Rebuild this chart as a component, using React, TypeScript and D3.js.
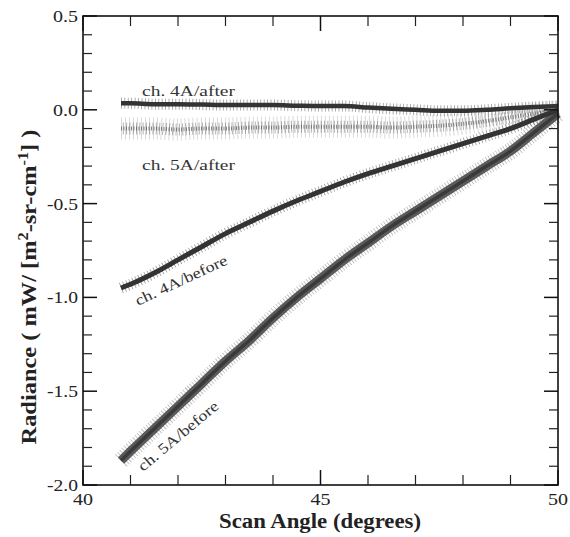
import React from "react";
import * as d3 from "d3";

const angles = [40.8, 41.0, 41.5, 42.0, 42.5, 43.0, 43.5, 44.0, 44.5, 45.0, 45.5, 46.0, 46.5, 47.0, 47.5, 48.0, 48.5, 49.0, 49.5, 50.0];
const ch4After = [0.035, 0.035, 0.03, 0.03, 0.028, 0.025, 0.025, 0.025, 0.022, 0.02, 0.02, 0.012, 0.005, 0.0, -0.005, -0.005, 0.0, 0.008, 0.015, 0.02];
const ch5After = [-0.1, -0.1, -0.1, -0.105, -0.1, -0.1, -0.095, -0.095, -0.09, -0.09, -0.09, -0.09, -0.095, -0.09, -0.085, -0.075, -0.06, -0.04, -0.02, -0.005];
const ch4Before = [-0.95, -0.93, -0.87, -0.8, -0.73, -0.66, -0.6, -0.54, -0.485, -0.435, -0.385, -0.34, -0.3, -0.26, -0.22, -0.18, -0.14, -0.1, -0.05, 0.0];
const ch5Before = [-1.87, -1.82, -1.7, -1.58, -1.46, -1.34, -1.23, -1.11, -1.0, -0.9, -0.8, -0.71, -0.62, -0.54, -0.46, -0.38, -0.3, -0.22, -0.12, -0.02];

const xMajor = [40, 45, 50];
const xMajorLabels = ["40", "45", "50"];
const yMajor = [0.5, 0.0, -0.5, -1.0, -1.5, -2.0];
const yMajorLabels = ["0.5", "0.0", "-0.5", "-1.0", "-1.5", "-2.0"];

const W = 570, H = 537;
const L = 83, R = 558, T = 16, B = 485;

export default function App() {
  const x = d3.scaleLinear().domain([40, 50]).range([L, R]);
  const y = d3.scaleLinear().domain([-2, 0.5]).range([B, T]);
  const line = (vals: number[]) =>
    d3.line<number>().x((_, i) => x(angles[i])).y((v) => y(v)).curve(d3.curveMonotoneX)(vals) || "";

  const xMinor = d3.range(41, 50, 1).filter((v) => v !== 45);
  const yMinor = d3.range(-19, 5, 1).map((v) => v / 10).filter((v) => Math.abs(v * 2 - Math.round(v * 2)) > 1e-6);

  const serif = "'Liberation Serif', 'Times New Roman', Times, serif";

  return (
    <svg width={W} height={H} style={{ position: "absolute", left: 0, top: 0, background: "#fff", fontFamily: serif }}>
      {/* 5A/after scattered band */}
      <path d={line(ch5After)} fill="none" stroke="#999" strokeWidth={22} strokeDasharray="0.8 3.2" opacity={0.45} />
      <path d={line(ch5After)} fill="none" stroke="#666" strokeWidth={12} strokeDasharray="1 2.3" strokeDashoffset={1.5} opacity={0.5} />
      <path d={line(ch5After)} fill="none" stroke="#555" strokeWidth={4} strokeDasharray="1 1.5" opacity={0.7} />

      {/* 5A/before */}
      <path d={line(ch5Before)} fill="none" stroke="#888" strokeWidth={17} strokeDasharray="0.8 2.2" opacity={0.6} />
      <path d={line(ch5Before)} fill="none" stroke="#5a5a5a" strokeWidth={9} />
      <path d={line(ch5Before)} fill="none" stroke="#3a3a3a" strokeWidth={3.5} />

      {/* 4A/before */}
      <path d={line(ch4Before)} fill="none" stroke="#555" strokeWidth={11} strokeDasharray="0.8 2.6" opacity={0.6} />
      <path d={line(ch4Before)} fill="none" stroke="#333" strokeWidth={5} />

      {/* 4A/after */}
      <path d={line(ch4After)} fill="none" stroke="#555" strokeWidth={11} strokeDasharray="0.8 2.6" opacity={0.6} />
      <path d={line(ch4After)} fill="none" stroke="#333" strokeWidth={4.5} />

      {/* frame */}
      <rect x={L} y={T} width={R - L} height={B - T} fill="none" stroke="#111" strokeWidth={1.6} />

      {/* x ticks bottom & top */}
      {xMajor.map((v) => (
        <g key={"xm" + v}>
          <line x1={x(v)} x2={x(v)} y1={B} y2={B - 15} stroke="#111" strokeWidth={1.5} />
          <line x1={x(v)} x2={x(v)} y1={T} y2={T + 15} stroke="#111" strokeWidth={1.5} />
        </g>
      ))}
      {xMinor.map((v) => (
        <g key={"xn" + v}>
          <line x1={x(v)} x2={x(v)} y1={B} y2={B - 10} stroke="#222" strokeWidth={1.2} />
          <line x1={x(v)} x2={x(v)} y1={T} y2={T + 10} stroke="#222" strokeWidth={1.2} />
        </g>
      ))}
      {/* y ticks left & right */}
      {yMajor.map((v) => (
        <g key={"ym" + v}>
          <line x1={L} x2={L + 14} y1={y(v)} y2={y(v)} stroke="#111" strokeWidth={1.5} />
          <line x1={R} x2={R - 14} y1={y(v)} y2={y(v)} stroke="#111" strokeWidth={1.5} />
        </g>
      ))}
      {yMinor.map((v) => (
        <g key={"yn" + v}>
          <line x1={L} x2={L + 9} y1={y(v)} y2={y(v)} stroke="#222" strokeWidth={1.2} />
          <line x1={R} x2={R - 9} y1={y(v)} y2={y(v)} stroke="#222" strokeWidth={1.2} />
        </g>
      ))}

      {/* tick labels */}
      {yMajor.map((v, i) => (
        <text key={"yl" + v} x={L - 5} y={y(v)} dy="0.35em" textAnchor="end" fontSize={17} fill="#222"
          textLength={yMajorLabels[i].length === 3 ? 25 : 31} lengthAdjust="spacingAndGlyphs">
          {yMajorLabels[i]}
        </text>
      ))}
      {xMajor.map((v, i) => (
        <text key={"xl" + v} x={x(v)} y={505} textAnchor="middle" fontSize={17} fill="#222"
          textLength={20} lengthAdjust="spacingAndGlyphs">
          {xMajorLabels[i]}
        </text>
      ))}

      {/* axis titles */}
      <text x={320} y={528} textAnchor="middle" fontSize={20} fontWeight="bold" fill="#222"
        textLength={202} lengthAdjust="spacingAndGlyphs">
        Scan Angle (degrees)
      </text>
      <text transform="translate(36,287) rotate(-90)" textAnchor="middle" fontSize={21} fontWeight="bold" fill="#222"
        textLength={315} lengthAdjust="spacingAndGlyphs">
        Radiance ( mW/ [m<tspan dy={-8} fontSize={14}>2</tspan><tspan dy={8}>-sr-cm</tspan>
        <tspan dy={-8} fontSize={14}>-1</tspan><tspan dy={8}>] )</tspan>
      </text>

      {/* annotations */}
      <text x={142} y={96} fontSize={15} fill="#333" textLength={93} lengthAdjust="spacingAndGlyphs">ch. 4A/after</text>
      <text x={142} y={170} fontSize={15} fill="#333" textLength={93} lengthAdjust="spacingAndGlyphs">ch. 5A/after</text>
      <text transform="translate(138,306) rotate(-25)" fontSize={15} fill="#333" textLength={100} lengthAdjust="spacingAndGlyphs">ch. 4A/before</text>
      <text transform="translate(143,472) rotate(-40)" fontSize={15} fill="#333" textLength={100} lengthAdjust="spacingAndGlyphs">ch. 5A/before</text>
    </svg>
  );
}
